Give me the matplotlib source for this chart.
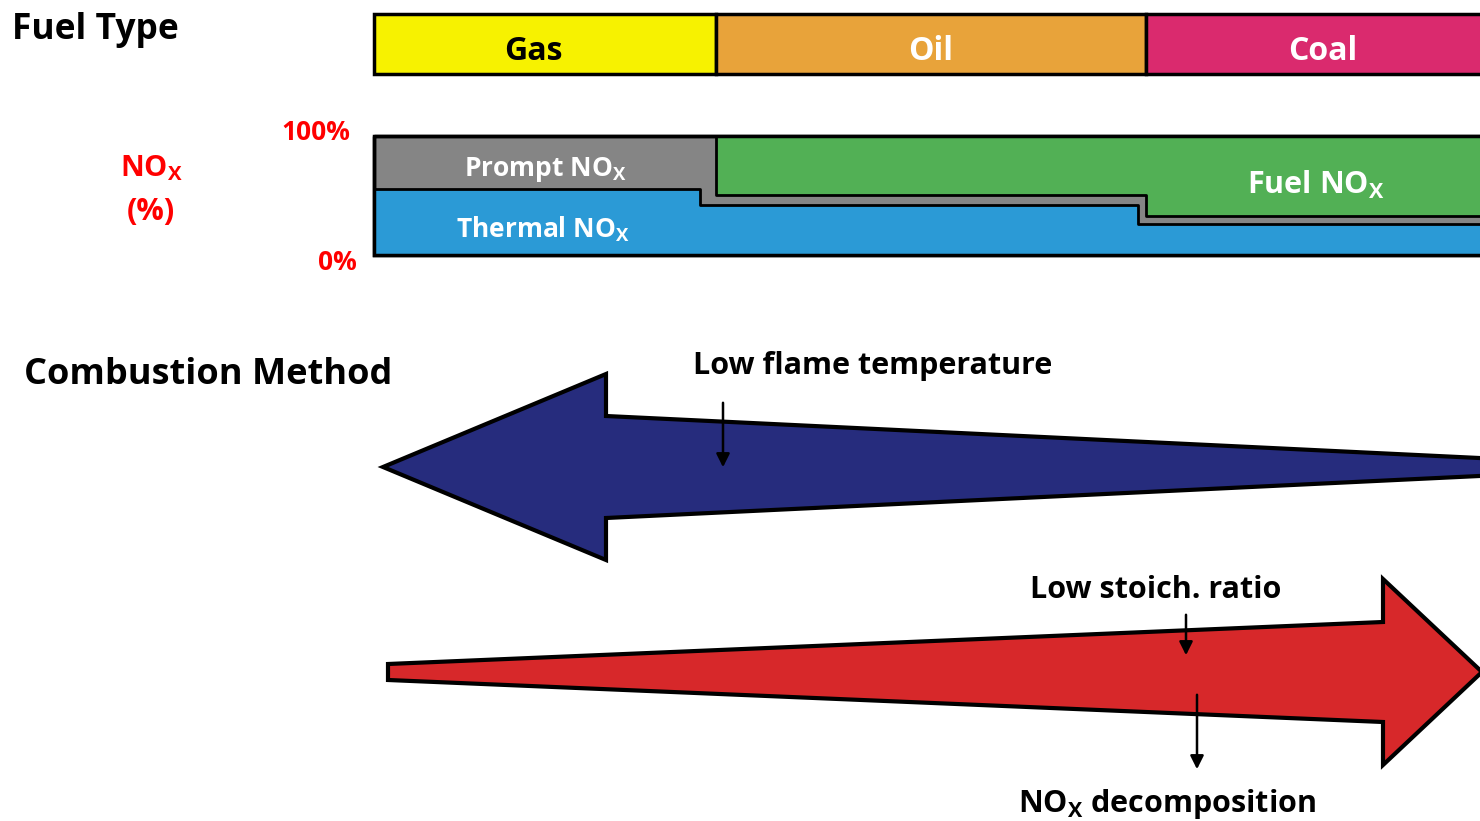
import numpy as np
import matplotlib.pyplot as plt
from matplotlib.patches import Polygon, Rectangle

plt.rcParams['font.family'] = ['Open Sans', 'DejaVu Sans']
plt.rcParams['mathtext.fontset'] = 'custom'
plt.rcParams['mathtext.rm'] = 'Open Sans:bold'
plt.rcParams['mathtext.bf'] = 'Open Sans:bold'
plt.rcParams['mathtext.it'] = 'Open Sans:bold'

# Fuel type strip (pixel positions along the spectrum)
fuels = ["Gas", "Oil", "Coal"]
fuel_edges = [374, 716, 1146, 1500]
fuel_colors = ['#F7F200', '#E8A33A', '#DA2A6E']
fuel_text = ['black', 'white', 'white']

# NOx make-up (fraction of total) per segment
thermal_edges = [374, 700, 1138, 1500]
thermal_frac = [0.555, 0.42, 0.26]
prompt_edges = [374, 716, 1146, 1500]
prompt_top_frac = [1.0, 0.50, 0.33]   # thermal + prompt

y0, y100 = 255, 136
def fy(f):
    return y0 - np.asarray(f) * (y0 - y100)

fig = plt.figure(figsize=(14.8, 8.21), dpi=100)
ax = fig.add_axes([0, 0, 1, 1])
ax.set_xlim(0, 1480)
ax.set_ylim(821, 0)
ax.axis('off')

# fuel strip
for name, a, b, c, tc in zip(fuels, fuel_edges[:-1], fuel_edges[1:], fuel_colors, fuel_text):
    ax.add_patch(Rectangle((a, 14), b - a, 60, facecolor=c, edgecolor='black', lw=2.5))
    ax.text((a + b) / 2 - (12 if name == "Gas" else 0), 51, name, ha='center', va='center',
            fontsize=23, fontweight='bold', color=tc)

# NOx stack: gray (prompt) background, thermal and fuel on top
ax.add_patch(Rectangle((374, y100), 1500 - 374, y0 - y100, facecolor='#858585',
                       edgecolor='black', lw=2.5, zorder=1))
tx = np.array(thermal_edges)
ty = fy(thermal_frac + [thermal_frac[-1]])
ax.fill_between(tx, ty, y0, step='post', facecolor='#2B9AD6', edgecolor='black', lw=2, zorder=2)
px = np.array(prompt_edges)
py = fy(prompt_top_frac + [prompt_top_frac[-1]])
ax.fill_between(px, y100, py, step='post', where=py < y0, facecolor='#52B055',
                edgecolor='black', lw=2, zorder=2)
ax.add_patch(Rectangle((374, y100), 1500 - 374, y0 - y100, facecolor='none',
                       edgecolor='black', lw=2.5, zorder=3))

ax.text(545, 170, r'Prompt NO$_\mathrm{X}$', ha='center', va='center', fontsize=19,
        fontweight='bold', color='white', zorder=4)
ax.text(543, 229, r'Thermal NO$_\mathrm{X}$', ha='center', va='center', fontsize=19,
        fontweight='bold', color='white', zorder=4)
ax.text(1316, 185, r'Fuel NO$_\mathrm{X}$', ha='center', va='center', fontsize=22,
        fontweight='bold', color='white', zorder=4)

red = '#FF0000'
ax.text(151, 168, r'NO$_\mathrm{X}$', ha='center', va='center', fontsize=21, fontweight='bold', color=red)
ax.text(151, 212, '(%)', ha='center', va='center', fontsize=22, fontweight='bold', color=red)
ax.text(350, 132, '100%', ha='right', va='center', fontsize=19, fontweight='bold', color=red)
ax.text(357, 262, '0%', ha='right', va='center', fontsize=19, fontweight='bold', color=red)

ax.text(12, 30, 'Fuel Type', ha='left', va='center', fontsize=25.5, fontweight='bold')
ax.text(24, 375, 'Combustion Method', ha='left', va='center', fontsize=26, fontweight='bold')

# big arrows
def big_arrow(tip_x, base_x, tail_x, cy, head_h, shaft_h, tail_h):
    pts = [(tip_x, cy), (base_x, cy - head_h), (base_x, cy - shaft_h), (tail_x, cy - tail_h),
           (tail_x, cy + tail_h), (base_x, cy + shaft_h), (base_x, cy + head_h)]
    return pts

ax.add_patch(Polygon(big_arrow(383, 606, 1500, 467, 93, 51, 8), closed=True,
                     facecolor='#262C7D', edgecolor='black', lw=3, zorder=2))
ax.add_patch(Polygon(big_arrow(1482, 1383, 388, 672, 93, 50, 8), closed=True,
                     facecolor='#D7282A', edgecolor='black', lw=3, zorder=2))

ax.text(693, 366, 'Low flame temperature', ha='left', va='center', fontsize=22, fontweight='bold')
ax.text(1030, 590, 'Low stoich. ratio', ha='left', va='center', fontsize=22, fontweight='bold')
ax.text(1018, 804, r'NO$_\mathrm{X}$ decomposition', ha='left', va='center', fontsize=22, fontweight='bold')

aprops = dict(arrowstyle='-|>', color='black', lw=1.8, mutation_scale=20)
ax.annotate('', xy=(723, 470), xytext=(723, 400), arrowprops=aprops, zorder=5)
ax.annotate('', xy=(1186, 658), xytext=(1186, 612), arrowprops=aprops, zorder=5)
ax.annotate('', xy=(1197, 772), xytext=(1197, 692), arrowprops=aprops, zorder=5)

fig.savefig('out.png', dpi=100)
